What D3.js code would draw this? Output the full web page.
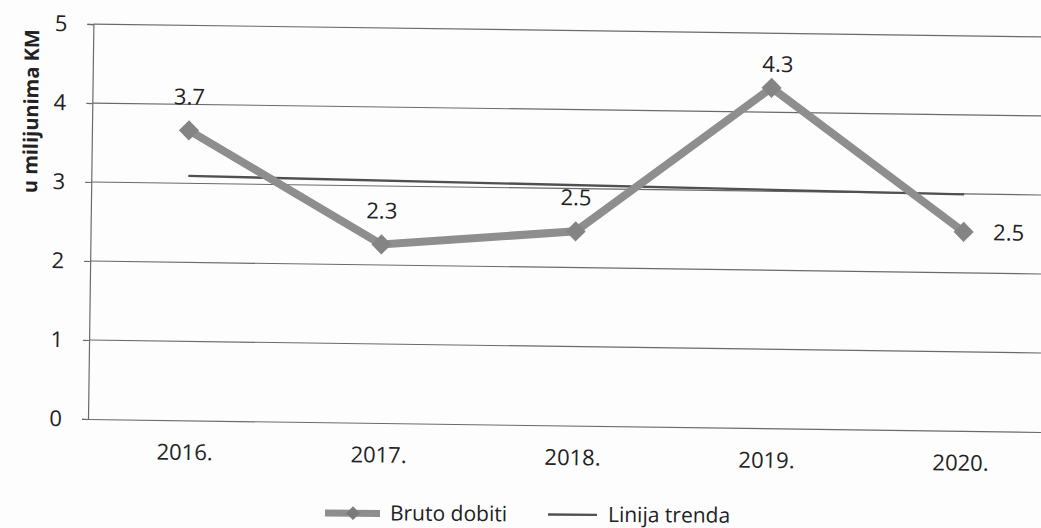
<!DOCTYPE html>
<html>
<head>
<meta charset="utf-8">
<script src="https://cdn.jsdelivr.net/npm/d3@7"></script>
<style>
  html, body { margin: 0; padding: 0; background: #fdfdfd; overflow: hidden; }
  text { font-family: "Open Sans", sans-serif; fill: #222; }
</style>
</head>
<body>
<svg id="chart" width="1041" height="528"></svg>
<script>
// data
const years = ['2016.', '2017.', '2018.', '2019.', '2020.'];
const brutoDobit = [3.67, 2.26, 2.46, 4.31, 2.52];
const yTicks = [0, 1, 2, 3, 4, 5];

const m = { left: 88, top: 24 };
const plotW = 970, plotH = 395;

const svg = d3.select('#chart');

// the scan is tilted a little, so turn the whole chart around the origin
const tilt = Math.atan(13 / 953) * 180 / Math.PI;
const root = svg.append('g')
  .attr('transform', `rotate(${tilt},${m.left},${m.top + plotH})`);

const x = d3.scaleBand().domain(years).range([0, plotW]);
const y = d3.scaleLinear().domain([0, 5]).range([plotH, 0]);

const g = root.append('g').attr('transform', `translate(${m.left},${m.top})`);

// gridlines
g.selectAll('.grid')
  .data(yTicks.filter(d => d > 0))
  .enter().append('line')
  .attr('x1', 0).attr('x2', plotW)
  .attr('y1', d => y(d)).attr('y2', d => y(d))
  .attr('stroke', '#6a6a6a').attr('stroke-width', 1.2);

// y axis
const yAxis = g.append('g')
  .call(d3.axisLeft(y).tickValues(yTicks).tickFormat(d3.format('d')).tickSize(6).tickPadding(20));
yAxis.select('.domain').attr('stroke', '#6a6a6a').attr('stroke-width', 1.2);
yAxis.selectAll('.tick line').attr('stroke', '#6a6a6a').attr('stroke-width', 1.2);
yAxis.selectAll('text').style('font-size', '22px').attr('fill', '#222');

// x axis
const xAxis = g.append('g').attr('transform', `translate(0,${plotH})`)
  .call(d3.axisBottom(x).tickSize(0).tickPadding(24));
xAxis.select('.domain').attr('stroke', '#6a6a6a').attr('stroke-width', 1.2);
xAxis.selectAll('text').style('font-size', '22px').attr('fill', '#222');

// trend line (least squares over the series)
const n = brutoDobit.length;
const mx = d3.mean(d3.range(n)), my = d3.mean(brutoDobit);
const slope = d3.sum(brutoDobit, (v, i) => (i - mx) * (v - my)) / d3.sum(d3.range(n), i => (i - mx) ** 2);
const trend = d3.range(n).map(i => my + slope * (i - mx));
const cx = d => x(d) + x.bandwidth() / 2;

g.append('line')
  .attr('x1', cx(years[0])).attr('x2', cx(years[n - 1]))
  .attr('y1', y(trend[0])).attr('y2', y(trend[n - 1]))
  .attr('stroke', '#505050').attr('stroke-width', 2.4);

// main series
const line = d3.line().x((d, i) => cx(years[i])).y(d => y(d));
g.append('path')
  .datum(brutoDobit)
  .attr('d', line)
  .attr('fill', 'none')
  .attr('stroke', '#8e8e8e')
  .attr('stroke-width', 8)
  .attr('stroke-linejoin', 'miter');

const diamond = d3.symbol().type(d3.symbolDiamond2).size(260);
g.selectAll('.pt')
  .data(brutoDobit)
  .enter().append('path')
  .attr('d', diamond)
  .attr('transform', (d, i) => `translate(${cx(years[i])},${y(d)})`)
  .attr('fill', '#848484');

// data labels
const fmt = d3.format('.1f');
g.selectAll('.lbl')
  .data(brutoDobit)
  .enter().append('text')
  .attr('x', (d, i) => i === n - 1 ? cx(years[i]) + 45 : cx(years[i]) + (i === 3 ? 6 : 0))
  .attr('y', (d, i) => i === n - 1 ? y(d) + 8 : y(d) - (i === 3 ? 16 : 26))
  .attr('text-anchor', 'middle')
  .style('font-size', '22px')
  .text(d => fmt(d));

// y axis title
root.append('text')
  .attr('transform', `translate(34,${m.top + 88}) rotate(-90)`)
  .attr('text-anchor', 'middle')
  .style('font-size', '20px')
  .style('font-weight', 'bold')
  .text('u milijunima KM');

// legend (kept level, just below the chart)
const leg = svg.append('g').attr('transform', `translate(325,513) rotate(${tilt / 2})`);
leg.append('line').attr('x1', 0).attr('x2', 55).attr('y1', 0).attr('y2', 0)
  .attr('stroke', '#8e8e8e').attr('stroke-width', 7);
leg.append('path').attr('d', d3.symbol().type(d3.symbolDiamond2).size(120))
  .attr('transform', 'translate(28,0)').attr('fill', '#7a7a7a');
leg.append('text').attr('x', 65).attr('y', 7).style('font-size', '21px').text('Bruto dobiti');
leg.append('line').attr('x1', 223).attr('x2', 272).attr('y1', 0).attr('y2', 0)
  .attr('stroke', '#505050').attr('stroke-width', 2.4);
leg.append('text').attr('x', 283).attr('y', 7).style('font-size', '21px').text('Linija trenda');
</script>
</body>
</html>
